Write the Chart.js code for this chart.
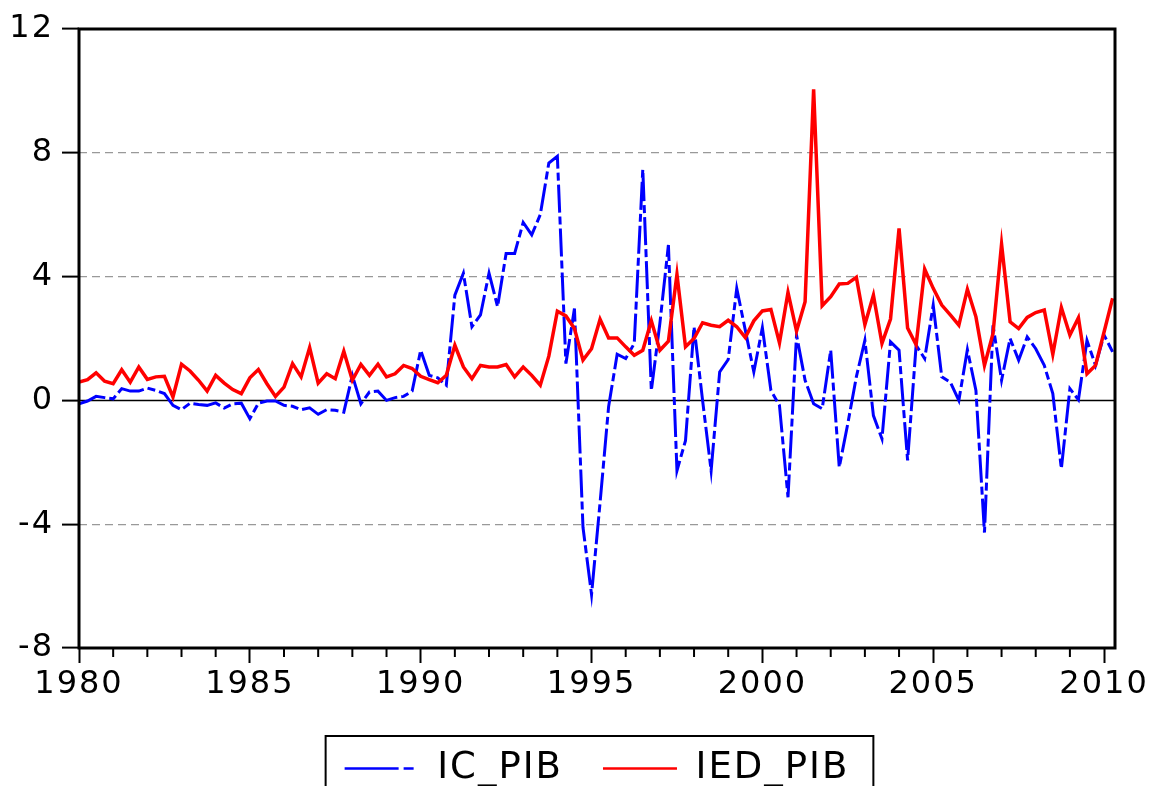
<!DOCTYPE html>
<html>
<head>
<meta charset="utf-8">
<title>IC_PIB / IED_PIB</title>
<script src="https://cdn.jsdelivr.net/npm/chart.js@4.4.1/dist/chart.umd.min.js"></script>
<style>
  html, body { margin: 0; padding: 0; background: #fff; }
  #wrap { width: 1155px; height: 786px; }
</style>
</head>
<body>
<div id="wrap"><canvas id="chart" width="1155" height="786"></canvas></div>
<script>
// quarterly series, 1980Q1 .. 2010Q2
const icPib = [
    -0.11, -0.02, 0.13, 0.09,
    0.05, 0.38, 0.30, 0.30,
    0.40, 0.32, 0.22, -0.16,
    -0.30, -0.09, -0.13, -0.16,
    -0.08, -0.25, -0.11, -0.09,
    -0.59, -0.09, -0.02, -0.02,
    -0.16, -0.19, -0.30, -0.24,
    -0.45, -0.30, -0.32, -0.38,
    0.81, -0.11, 0.27, 0.30,
    0.00, 0.09, 0.13, 0.30,
    1.62, 0.81, 0.73, 0.49,
    3.40, 4.11, 2.38, 2.76,
    4.11, 3.03, 4.75, 4.75,
    5.75, 5.35, 6.00, 7.67,
    7.89, 1.19, 2.97, -4.10,
    -6.27, -3.30, -0.20, 1.49,
    1.35, 1.84, 7.46, 0.32,
    2.49, 5.02, -2.27, -1.30,
    2.38, 0.00, -2.27, 0.92,
    1.32, 3.62, 2.27, 0.92,
    2.35, 0.32, -0.16, -3.13,
    2.11, 0.65, -0.11, -0.27,
    1.62, -2.16, -0.75, 0.76,
    1.94, -0.49, -1.24, 1.89,
    1.62, -1.94, 1.78, 1.35,
    3.08, 0.76, 0.59, 0.00,
    1.64, 0.32, -4.27, 2.43,
    0.65, 2.00, 1.30, 2.05,
    1.67, 1.13, 0.22, -2.21,
    0.38, 0.02, 1.94, 1.13,
    2.11, 1.57
];

const iedPib = [
    0.59, 0.67, 0.89, 0.62,
    0.54, 0.99, 0.59, 1.08,
    0.68, 0.76, 0.78, 0.11,
    1.17, 0.95, 0.65, 0.30,
    0.81, 0.56, 0.35, 0.22,
    0.73, 1.00, 0.54, 0.13,
    0.43, 1.19, 0.76, 1.71,
    0.56, 0.86, 0.70, 1.59,
    0.65, 1.16, 0.81, 1.17,
    0.76, 0.86, 1.13, 1.03,
    0.78, 0.67, 0.57, 0.81,
    1.78, 1.08, 0.70, 1.13,
    1.08, 1.08, 1.16, 0.76,
    1.08, 0.81, 0.49, 1.43,
    2.88, 2.73, 2.32, 1.30,
    1.67, 2.62, 2.02, 2.02,
    1.73, 1.46, 1.62, 2.57,
    1.62, 1.91, 4.07, 1.73,
    2.00, 2.51, 2.43, 2.38,
    2.59, 2.38, 2.03, 2.57,
    2.89, 2.94, 1.86, 3.49,
    2.24, 3.19, 10.05, 3.06,
    3.35, 3.76, 3.78, 3.98,
    2.45, 3.40, 1.84, 2.63,
    5.56, 2.34, 1.80, 4.24,
    3.62, 3.08, 2.76, 2.43,
    3.59, 2.70, 1.13, 2.16,
    5.05, 2.54, 2.32, 2.68,
    2.84, 2.92, 1.49, 3.00,
    2.11, 2.67, 0.86, 1.13,
    2.21, 3.30
];

const firstYear = 1980;
const periods = icPib.map((_, i) => (firstYear + Math.floor(i / 4)) + 'Q' + (i % 4 + 1));
const xLabelYears = [1980, 1985, 1990, 1995, 2000, 2005, 2010];
const yTicks = [-8, -4, 0, 4, 8, 12];
const dashedGrid = [-4, 4, 8];

function periodToYear(p) {
    const [y, q] = p.split('Q');
    return Number(y) + (Number(q) - 1) / 4;
}

function toPoints(values) {
    return values.map((v, i) => ({ x: periodToYear(periods[i]), y: v }));
}

const legendDash = [[54, 5, 10, 300], []];

// wider text like the original export
const textSpacing = {
    id: 'textSpacing',
    beforeUpdate(chart) { chart.ctx.letterSpacing = '2px'; },
    beforeDraw(chart) { chart.ctx.letterSpacing = '2px'; }
};

const framePlugin = {
    id: 'frame',
    beforeDatasetsDraw(chart) {
        const { ctx, chartArea: a, scales: { y } } = chart;
        const y0 = y.getPixelForValue(0);
        ctx.save();
        ctx.strokeStyle = '#000';
        ctx.lineWidth = 1.5;
        ctx.beginPath();
        ctx.moveTo(a.left, y0);
        ctx.lineTo(a.right, y0);
        ctx.stroke();
        ctx.restore();
    },
    afterDraw(chart) {
        const { ctx, chartArea: a, scales: { x } } = chart;
        ctx.save();
        ctx.strokeStyle = '#000';
        ctx.lineWidth = 2;
        x.ticks.forEach(t => {
            if (xLabelYears.includes(t.value)) return;
            const px = x.getPixelForValue(t.value);
            ctx.beginPath();
            ctx.moveTo(px, a.bottom);
            ctx.lineTo(px, a.bottom + 9);
            ctx.stroke();
        });
        ctx.lineWidth = 3;
        ctx.strokeRect(a.left, a.top, a.right - a.left, a.bottom - a.top);

        const hb = chart.legend.legendHitBoxes;
        if (hb && hb.length) {
            const last = hb[hb.length - 1];
            const left = hb[0].left - 19;
            const right = last.left + last.width + 24;
            ctx.lineWidth = 2;
            ctx.strokeRect(left, hb[0].top - 14, right - left, 120);
        }
        ctx.restore();
    }
};

const canvas = document.getElementById('chart');
new Chart(canvas.getContext('2d'), {
    type: 'line',
    data: {
        datasets: [{
            label: 'IC_PIB',
            data: toPoints(icPib),
            borderColor: '#0000ff',
            borderWidth: 3,
            borderDash: [28, 4, 8, 4],
            pointRadius: 0,
            tension: 0,
            fill: false,
            order: 1
        }, {
            label: 'IED_PIB',
            data: toPoints(iedPib),
            borderColor: '#ff0000',
            borderWidth: 3.5,
            pointRadius: 0,
            tension: 0,
            fill: false,
            order: 0
        }]
    },
    options: {
        responsive: false,
        animation: false,
        events: [],
        layout: { padding: { top: 29, right: 40, bottom: 0, left: 0 } },
        scales: {
            x: {
                type: 'linear',
                min: 1980,
                max: 2010.32,
                afterFit: s => { s.height = 62; },
                border: { display: false },
                grid: {
                    drawOnChartArea: false,
                    tickLength: 15,
                    tickWidth: 2,
                    tickColor: c => xLabelYears.includes(c.tick.value) ? '#000' : 'rgba(0,0,0,0)'
                },
                ticks: {
                    stepSize: 1,
                    autoSkip: false,
                    includeBounds: false,
                    maxRotation: 0,
                    padding: 2,
                    color: '#000',
                    font: { family: 'DejaVu Sans', size: 32 },
                    callback: v => xLabelYears.includes(v) ? String(v) : ''
                }
            },
            y: {
                min: yTicks[0],
                max: yTicks[yTicks.length - 1],
                afterFit: s => { s.width = 79; },
                border: { display: false, dash: [8, 5] },
                grid: {
                    color: c => dashedGrid.includes(c.tick.value) ? '#999999' : 'rgba(0,0,0,0)',
                    lineWidth: 1.2,
                    tickLength: 17,
                    tickWidth: 2,
                    tickColor: '#000'
                },
                ticks: {
                    stepSize: 4,
                    padding: 8,
                    color: '#000',
                    font: { family: 'DejaVu Sans', size: 32 }
                }
            }
        },
        plugins: {
            tooltip: { enabled: false },
            legend: {
                position: 'bottom',
                fullSize: false,
                maxHeight: 76,
                labels: {
                    font: { family: 'DejaVu Sans', size: 37 },
                    color: '#000',
                    boxWidth: 74,
                    boxHeight: 0,
                    padding: 40,
                    generateLabels: chart => chart.data.datasets.map((ds, i) => ({
                        text: ds.label,
                        fillStyle: 'rgba(0,0,0,0)',
                        strokeStyle: ds.borderColor,
                        lineWidth: 2.5,
                        lineDash: legendDash[i],
                        fontColor: '#000',
                        hidden: false,
                        datasetIndex: i
                    }))
                }
            }
        }
    },
    plugins: [textSpacing, framePlugin]
});
</script>
</body>
</html>
